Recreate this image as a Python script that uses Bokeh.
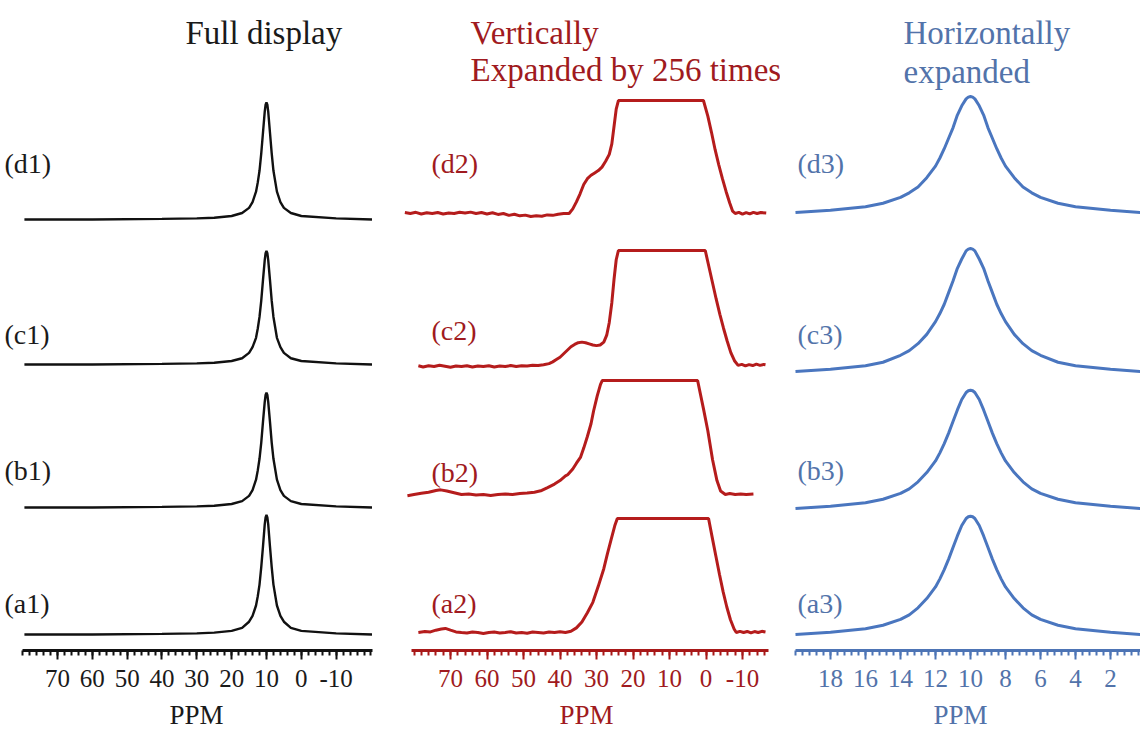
from bokeh.plotting import figure
from bokeh.models import Range1d, FixedTicker, Label
from bokeh.layouts import row
from bokeh.embed import file_html
from bokeh.resources import INLINE

# ---------------- data ----------------
# Panel 1: full display (ppm, normalised intensity)
P1_PPM = [79.5, 60, 40, 30, 25, 20, 17, 15, 14, 13, 12.5, 12, 11.5, 11, 10.5, 10.25, 10, 9.75,
          9.5, 9, 8.5, 8, 7, 6, 5, 3, 0, -10, -20.3]
D1 = [0.0, 0.0, 0.005, 0.01, 0.015, 0.03, 0.056, 0.10, 0.15, 0.24, 0.32, 0.42, 0.57, 0.75, 0.93,
      0.99, 1.01, 0.99, 0.93, 0.75, 0.57, 0.42, 0.24, 0.15, 0.10, 0.056, 0.03, 0.01, 0.0]
C1 = [0.0, 0.0, 0.005, 0.01, 0.015, 0.03, 0.054, 0.10, 0.15, 0.23, 0.31, 0.41, 0.55, 0.73, 0.90,
      0.96, 0.98, 0.96, 0.90, 0.73, 0.55, 0.41, 0.23, 0.15, 0.10, 0.054, 0.03, 0.01, 0.0]
B1 = [0.0, 0.0, 0.005, 0.01, 0.015, 0.03, 0.055, 0.10, 0.15, 0.24, 0.32, 0.42, 0.56, 0.74, 0.91,
      0.97, 0.99, 0.97, 0.91, 0.74, 0.56, 0.42, 0.24, 0.15, 0.10, 0.055, 0.03, 0.01, 0.0]
A1 = [0.0, 0.0, 0.005, 0.01, 0.016, 0.031, 0.057, 0.11, 0.16, 0.25, 0.33, 0.43, 0.58, 0.76, 0.95,
      1.01, 1.03, 1.01, 0.95, 0.76, 0.58, 0.43, 0.25, 0.16, 0.11, 0.057, 0.031, 0.01, 0.0]

# Panel 2: vertically expanded by 256 times (clipped at the top)
D2_PPM = [82.5, 81, 79.5, 78, 76.5, 75, 73.5, 72, 70.5, 69, 67.5, 66, 64.5, 63, 61.5, 60, 58.5, 57,
          55.5, 54, 52.5, 51, 49.5, 48, 46.5, 45, 43.5, 42, 40.5, 39, 37.5, 36.5, 35.5, 34.5, 33.5,
          32.5, 31.5, 30.5, 29.5, 28.5, 27.5, 26.5, 25.8, 25.2, 24.6, 24.0, 0.7, -0.5, -1.5, -2.5,
          -3.5, -4.5, -5.5, -6.5, -7.3, -8.0, -9.0, -10.0, -11.0, -12.0, -13.0, -14.0, -15.0, -16.5]
D2 = [0.008, 0.0, 0.01, -0.004, 0.006, 0.0, 0.008, -0.004, 0.005, 0.0, 0.01, 0.004, 0.012, 0.0,
      0.008, -0.004, 0.006, -0.008, 0.0, -0.016, -0.006, -0.02, -0.014, -0.026, -0.02, -0.024,
      -0.012, -0.016, -0.006, 0.0, 0.0, 0.04, 0.10, 0.17, 0.25, 0.30, 0.33, 0.35, 0.37, 0.40, 0.45,
      0.51, 0.60, 0.75, 0.90, 0.974, 0.974, 0.84, 0.70, 0.55, 0.42, 0.30, 0.19, 0.09, 0.02, 0.0,
      0.01, -0.006, 0.008, -0.004, 0.01, 0.0, 0.008, 0.004]

C2_PPM = [78.8, 77.5, 76, 74.5, 73, 71.5, 70, 68.5, 67, 65.5, 64, 62.5, 61, 59.5, 58, 56.5, 55,
          53.5, 52, 50.5, 49, 47.5, 46, 44.5, 43, 42, 41, 40, 39, 38, 37, 36, 35, 34, 33, 32, 31,
          30, 29, 28, 27.2, 26.5, 25.8, 25.2, 24.6, 24.0, 0.2, -0.8, -1.8, -2.8, -3.8, -4.8, -5.8,
          -6.8, -7.8, -8.8, -9.8, -10.8, -11.8, -12.8, -13.8, -14.8, -15.8, -16.3]
C2 = [0.006, -0.004, 0.006, 0.0, 0.01, 0.003, -0.006, 0.004, 0.0, 0.007, -0.004, 0.005, 0.0,
      0.007, -0.004, 0.004, 0.0, 0.008, 0.0, 0.007, 0.004, 0.01, 0.008, 0.015, 0.025, 0.04, 0.06,
      0.08, 0.11, 0.14, 0.17, 0.19, 0.205, 0.21, 0.205, 0.195, 0.185, 0.18, 0.185, 0.21, 0.27,
      0.38, 0.55, 0.75, 0.92, 1.0, 1.0, 0.86, 0.72, 0.58, 0.45, 0.33, 0.22, 0.12, 0.05, 0.01,
      0.018, 0.005, 0.016, 0.008, 0.02, 0.01, 0.018, 0.015]

B2_PPM = [81.8, 80, 78, 76, 74, 72.7, 71, 69, 67, 65, 63, 61, 59, 57, 55, 53, 51, 49, 47, 45,
          43.4, 41.5, 40, 38.5, 37.9, 36.5, 35.5, 34.4, 33.5, 32.5, 31.5, 30.8, 29.8, 28.9, 28.4,
          2.3, 0.7, -0.5, -1.8, -3.0, -4.0, -5.3, -6.5, -8.0, -9.5, -11.0, -13.0]
B2 = [-0.01, 0.0, 0.01, 0.02, 0.035, 0.04, 0.03, 0.015, 0.0, 0.004, -0.004, 0.0, -0.008, 0.0,
      0.004, 0.0, 0.008, 0.012, 0.02, 0.035, 0.06, 0.09, 0.12, 0.16, 0.17, 0.22, 0.27, 0.32, 0.40,
      0.50, 0.61, 0.72, 0.85, 0.95, 0.983, 0.983, 0.74, 0.55, 0.30, 0.12, 0.03, 0.0, 0.008, 0.0,
      0.004, 0.0, 0.004]

A2_PPM = [78.8, 77, 75.5, 74, 72.5, 71.4, 70, 68.5, 67, 65.5, 64, 62.5, 61, 59.5, 58, 56.5, 55,
          53.5, 52, 50.5, 49, 47.5, 46, 44.5, 43, 41.5, 40, 38.5, 37, 35.5, 34, 32.5, 31, 29.5, 28,
          27, 26, 25, 24.3, -0.7, -1.7, -2.7, -3.7, -4.7, -5.7, -6.7, -7.7, -8.3, -9.3, -10.3,
          -11.3, -12.3, -13.3, -14.3, -15.3, -16.3]
A2 = [0.0, 0.008, 0.005, 0.02, 0.03, 0.035, 0.02, 0.005, 0.0, -0.004, 0.004, 0.0, -0.008, 0.0,
      0.004, -0.004, 0.0, 0.007, -0.004, 0.0, -0.007, 0.004, 0.0, -0.004, 0.004, 0.0, 0.007, 0.0,
      0.01, 0.04, 0.09, 0.17, 0.26, 0.40, 0.55, 0.68, 0.80, 0.92, 0.983, 0.983, 0.82, 0.66, 0.50,
      0.35, 0.22, 0.11, 0.03, 0.0, 0.01, 0.0, 0.009, -0.004, 0.008, 0.0, 0.01, 0.004]

# Panel 3: horizontally expanded
P3_PPM = [20.0, 18.0, 16.0, 15.0, 14.0, 13.5, 13.0, 12.5, 12.0, 11.75, 11.5, 11.25, 11.0, 10.75,
          10.5, 10.25, 10.125, 10.0, 9.875, 9.75, 9.5, 9.25, 9.0, 8.75, 8.5, 8.25, 8.0, 7.5, 7.0,
          6.5, 6.0, 5.0, 4.0, 2.0, 0.3]
D3 = [0.03, 0.05, 0.08, 0.11, 0.16, 0.20, 0.25, 0.33, 0.43, 0.50, 0.58, 0.67, 0.76, 0.87, 0.95,
      1.01, 1.025, 1.03, 1.025, 1.01, 0.95, 0.87, 0.76, 0.67, 0.58, 0.50, 0.43, 0.33, 0.25, 0.20,
      0.16, 0.11, 0.08, 0.05, 0.03]
C3 = [0.03, 0.05, 0.08, 0.11, 0.17, 0.21, 0.27, 0.35, 0.46, 0.53, 0.61, 0.71, 0.81, 0.92, 1.0,
      1.07, 1.085, 1.09, 1.085, 1.07, 1.0, 0.92, 0.81, 0.71, 0.61, 0.53, 0.46, 0.35, 0.27, 0.21,
      0.17, 0.11, 0.08, 0.05, 0.03]
B3 = [0.03, 0.05, 0.08, 0.11, 0.16, 0.20, 0.26, 0.34, 0.44, 0.51, 0.59, 0.68, 0.78, 0.88, 0.97,
      1.03, 1.045, 1.05, 1.045, 1.03, 0.97, 0.88, 0.78, 0.68, 0.59, 0.51, 0.44, 0.34, 0.26, 0.20,
      0.16, 0.11, 0.08, 0.05, 0.03]
A3 = [0.03, 0.05, 0.08, 0.11, 0.16, 0.20, 0.26, 0.34, 0.44, 0.51, 0.59, 0.68, 0.78, 0.88, 0.97,
      1.03, 1.045, 1.05, 1.045, 1.03, 0.97, 0.88, 0.78, 0.68, 0.59, 0.51, 0.44, 0.34, 0.26, 0.20,
      0.16, 0.11, 0.08, 0.05, 0.03]

TICKS_WIDE = [70, 60, 50, 40, 30, 20, 10, 0, -10]
TICKS_NARROW = [18, 16, 14, 12, 10, 8, 6, 4, 2]
TRACE_NAMES = ["(d{})", "(c{})", "(b{})", "(a{})"]

# ---------------- layout / style ----------------
FONT = "Liberation Serif"
FIG_H = 734
BOTTOM = 84
UNIT = 116.0           # pixels per unit of intensity
AXIS_Y = 650


def ydat(py):
    return (AXIS_Y - py) / UNIT


def make_panel(left, width, anchor_ppm, anchor_x, px_per_ppm, bounds,
               majors, minors, axis_color, label_color):
    def xdat(px):
        return anchor_ppm - (px - anchor_x) / px_per_ppm
    p = figure(width=width, height=FIG_H, output_backend="svg", toolbar_location=None,
               x_range=Range1d(xdat(left), xdat(left + width)),
               y_range=Range1d(0, (FIG_H - BOTTOM) / UNIT),
               y_axis_location=None, min_border_left=0, min_border_right=0,
               min_border_top=0, min_border_bottom=BOTTOM)
    p.outline_line_color = None
    p.xgrid.visible = False
    p.ygrid.visible = False
    p.background_fill_color = "white"
    p.border_fill_color = "white"
    ax = p.xaxis[0]
    ax.ticker = FixedTicker(ticks=majors, minor_ticks=minors)
    ax.major_label_overrides = {-10: "-10"}
    ax.bounds = bounds
    ax.axis_line_color = axis_color
    ax.axis_line_width = 3
    ax.major_tick_line_color = axis_color
    ax.major_tick_line_width = 2
    ax.minor_tick_line_color = axis_color
    ax.minor_tick_line_width = 2
    ax.major_tick_out = 9
    ax.major_tick_in = 0
    ax.minor_tick_out = 5
    ax.minor_tick_in = 0
    ax.major_label_text_font = FONT
    ax.major_label_text_font_size = "25px"
    ax.major_label_text_color = label_color
    ax.major_label_standoff = 10
    ax.axis_label = "PPM"
    ax.axis_label_text_font = FONT
    ax.axis_label_text_font_size = "27px"
    ax.axis_label_text_font_style = "normal"
    ax.axis_label_text_color = label_color
    ax.axis_label_standoff = 10
    return p, xdat


def add_text(p, x, y, text, color, size):
    p.add_layout(Label(x=x, y=y, text=text, text_font=FONT, text_font_size=size,
                       text_color=color, text_baseline="middle", text_align="left"))


# Panel 1
BLACK_LINE, BLACK_TEXT = "#111111", "#1a1a1a"
p1, x1 = make_panel(0, 392, 70, 57, 3.483, (-20.4, 80.0), TICKS_WIDE,
                    [v for v in range(-20, 81, 2)], "#111111", BLACK_TEXT)
offsets1 = [ydat(219), ydat(364), ydat(507), ydat(634)]
for ys, off in zip([D1, C1, B1, A1], offsets1):
    p1.line(P1_PPM, [v + off for v in ys], line_color=BLACK_LINE, line_width=2.4)
add_text(p1, x1(185), ydat(32), "Full display", BLACK_TEXT, "33px")
for name, cy in zip(TRACE_NAMES, [163, 334, 470, 603]):
    add_text(p1, x1(4), ydat(cy), name.format(1), BLACK_TEXT, "28px")

# Panel 2
RED_LINE, RED_TEXT = "#b51c1c", "#a01a20"
p2, x2 = make_panel(392, 388, 70, 450, 3.65, (-17.1, 80.6), TICKS_WIDE,
                    [v for v in range(-16, 81, 2)], "#a81818", RED_TEXT)
offsets2 = [ydat(213), ydat(366), ydat(494), ydat(632)]
for xs, ys, off in zip([D2_PPM, C2_PPM, B2_PPM, A2_PPM], [D2, C2, B2, A2], offsets2):
    p2.line(xs, [v + off for v in ys], line_color=RED_LINE, line_width=3)
add_text(p2, x2(470), ydat(32), "Vertically", RED_TEXT, "33px")
add_text(p2, x2(470), ydat(69), "Expanded by 256 times", RED_TEXT, "33px")
for name, cy in zip(TRACE_NAMES, [163, 330, 472, 603]):
    add_text(p2, x2(431), ydat(cy), name.format(2), RED_TEXT, "28px")

# Panel 3
BLUE_LINE, BLUE_TEXT = "#4a76bf", "#5273aa"
p3, x3 = make_panel(780, 360, 18, 830, 17.5, (0.29, 20.0), TICKS_NARROW,
                    [round(0.4 + 0.4 * i, 1) for i in range(50)], "#4d74b5", BLUE_TEXT)
offsets3 = [ydat(215.5), ydat(374.5), ydat(511.5), ydat(637.5)]
for ys, off in zip([D3, C3, B3, A3], offsets3):
    p3.line(P3_PPM, [v + off for v in ys], line_color=BLUE_LINE, line_width=3)
add_text(p3, x3(903), ydat(32), "Horizontally", BLUE_TEXT, "33px")
add_text(p3, x3(903), ydat(71), "expanded", BLUE_TEXT, "33px")
for name, cy in zip(TRACE_NAMES, [163, 334, 470, 603]):
    add_text(p3, x3(797), ydat(cy), name.format(3), BLUE_TEXT, "28px")

layout = row(p1, p2, p3)
open("out.html", "w").write(file_html(layout, INLINE))
